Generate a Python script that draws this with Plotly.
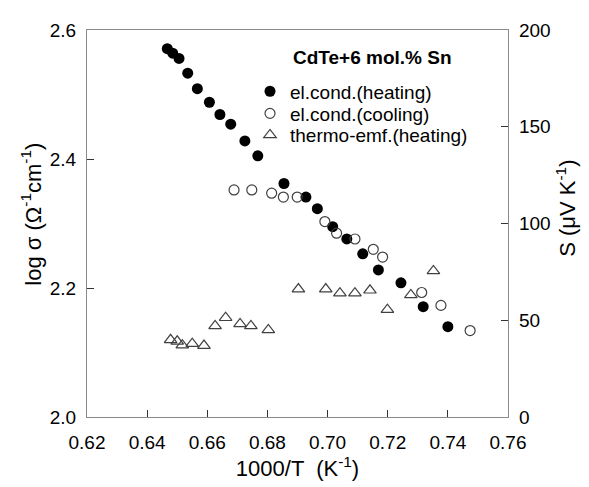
import plotly.graph_objects as go

# el.cond.(heating)
heat_x = [0.6467, 0.6485, 0.6506, 0.6535, 0.6567, 0.6607, 0.6642, 0.6678, 0.6725, 0.6768,
          0.6855, 0.6928, 0.6966, 0.7017, 0.7064, 0.7117, 0.7169, 0.7244, 0.7318, 0.7400]
heat_y = [2.571, 2.564, 2.556, 2.533, 2.509, 2.488, 2.469, 2.454, 2.428, 2.405,
          2.362, 2.341, 2.323, 2.295, 2.276, 2.253, 2.228, 2.208, 2.171, 2.140]

# el.cond.(cooling)
cool_x = [0.6689, 0.6748, 0.6814, 0.6853, 0.6899, 0.6991, 0.7030, 0.7091, 0.7152, 0.7183,
          0.7313, 0.7377, 0.7474]
cool_y = [2.352, 2.352, 2.347, 2.341, 2.341, 2.303, 2.285, 2.276, 2.260, 2.248,
          2.193, 2.173, 2.134]

# thermo-emf.(heating)
emf_x = [0.6478, 0.6500, 0.6517, 0.6550, 0.6589, 0.6626, 0.6661, 0.6709, 0.6745, 0.6803,
         0.6903, 0.6994, 0.7041, 0.7091, 0.7141, 0.7199, 0.7277, 0.7352]
emf_s = [39.9, 39.1, 37.1, 37.9, 36.9, 47.1, 51.3, 48.1, 47.1, 45.0,
         66.1, 66.1, 64.0, 64.0, 65.5, 55.5, 63.1, 75.5]

x_ticks = [0.62, 0.64, 0.66, 0.68, 0.70, 0.72, 0.74, 0.76]
yl_ticks = [2.0, 2.2, 2.4, 2.6]
yr_ticks = [0, 50, 100, 150, 200]

FONT = "Liberation Sans, Arial, sans-serif"
AXC = "#8a8a8a"
FS = 19
FT = 22

# the page body has an 8px margin; positions below are in window pixels
OFF = 8
W, H = 589 - OFF, 487 - OFF
L, R, T, B = 87 - OFF, 508 - OFF, 23 - OFF, 417 - OFF
def px(xs):
    return (xs - OFF - L) / (R - L)
def py(ys):
    return 1 - (ys - OFF - T) / (B - T)

fig = go.Figure()
fig.add_trace(go.Scatter(x=heat_x, y=heat_y, mode="markers", name="el.cond.(heating)", legend="legend",
                         marker=dict(symbol="circle", size=11, color="black", line=dict(width=0))))
fig.add_trace(go.Scatter(x=cool_x, y=cool_y, mode="markers", name="el.cond.(cooling)", legend="legend2",
                         marker=dict(symbol="circle-open", size=10, color="#404040", line=dict(width=1.2))))
fig.add_trace(go.Scatter(x=emf_x, y=emf_s, mode="markers", name="thermo-emf.(heating)", yaxis="y2",
                         legend="legend3",
                         marker=dict(symbol="triangle-up-open", size=11, color="#404040", line=dict(width=1.2))))

leg_common = dict(xanchor="left", yanchor="middle", bgcolor="rgba(0,0,0,0)",
                  font=dict(size=FS, family=FONT), itemwidth=30)

fig.update_layout(
    width=W, height=H, autosize=False,
    margin=dict(l=L, r=W - R, t=T, b=H - B, pad=0),
    paper_bgcolor="white", plot_bgcolor="white",
    font=dict(family=FONT, size=FS, color="black"),
    showlegend=True,
    legend=dict(x=px(250), y=py(85.5), **leg_common),
    legend2=dict(x=px(250), y=py(108), **leg_common),
    legend3=dict(x=px(250), y=py(130), **leg_common),
    xaxis=dict(range=[0.62, 0.76], tickvals=x_ticks, ticktext=[f"{v:.2f}" for v in x_ticks],
               ticks="inside", ticklen=7, tickcolor="#333333", showline=True, linecolor=AXC,
               linewidth=1.3, mirror=True, showgrid=False, zeroline=False, ticklabelstandoff=8,
               title=dict(text="1000/T  (K<sup>-1</sup>)", standoff=1, font=dict(size=FT))),
    yaxis=dict(range=[2.0, 2.6], tickvals=yl_ticks, ticktext=[f"{v:.1f}" for v in yl_ticks],
               ticks="inside", ticklen=7, tickcolor="#333333", showline=True, linecolor=AXC,
               linewidth=1.3, showgrid=False, zeroline=False, ticklabelstandoff=6),
    yaxis2=dict(range=[0, 200], tickvals=yr_ticks, overlaying="y", side="right",
                ticks="inside", ticklen=7, tickcolor="#333333", showline=True, linecolor=AXC,
                linewidth=1.3, showgrid=False, zeroline=False, ticklabelstandoff=6),
    annotations=[
        dict(text="<b>CdTe+6 mol.% Sn</b>", xref="paper", yref="paper",
             x=px(291), y=py(50.5), xanchor="left", yanchor="middle",
             showarrow=False, font=dict(size=FS, family=FONT)),
        dict(text="log σ (Ω<sup>-1</sup>cm<sup>-1</sup>)", xref="paper", yref="paper",
             x=px(31), y=py(211), xanchor="center", yanchor="middle", textangle=-90,
             showarrow=False, font=dict(size=FT, family=FONT)),
        dict(text="S (μV K<sup>-1</sup>)", xref="paper", yref="paper",
             x=px(566), y=py(205), xanchor="center", yanchor="middle", textangle=-90,
             showarrow=False, font=dict(size=FT, family=FONT)),
    ],
)

fig.write_html("out.html")
